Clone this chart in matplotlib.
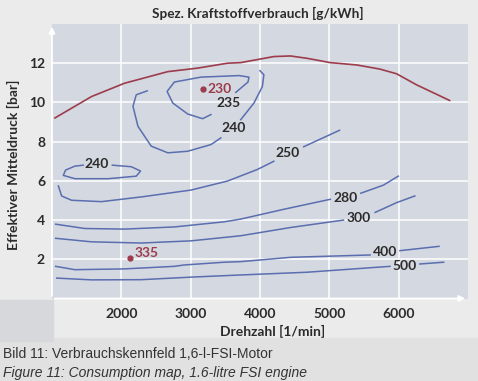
import matplotlib.pyplot as plt

# texts
title = 'Spez. Kraftstoffverbrauch [g/kWh]'
xlabel = 'Drehzahl [1/min]'
ylabel = 'Effektiver Mitteldruck [bar]'
caption_de = 'Bild 11: Verbrauchskennfeld 1,6-l-FSI-Motor'
caption_en = 'Figure 11: Consumption map, 1.6-litre FSI engine'

x_ticks = [2000, 3000, 4000, 5000, 6000]
y_ticks = [2, 4, 6, 8, 10, 12]

# full load line
full_rpm = [1043, 1570, 2047, 2670, 3100, 3531, 3722, 4200, 4439, 4679, 5014, 5397, 5730, 5971, 6257, 6735]
full_bar = [9.21, 10.30, 10.98, 11.57, 11.75, 12.00, 12.03, 12.34, 12.37, 12.25, 12.03, 11.91, 11.70, 11.46, 10.90, 10.10]

# 235 g/kWh
c235_rpm = [3292, 3172, 2957, 2742, 2660, 2765, 3148, 3698, 3841, 3827, 3650]
c235_bar = [9.38, 9.17, 9.41, 9.97, 10.56, 11.04, 11.29, 11.37, 11.29, 11.04, 10.51]

# 240 g/kWh, upper island (two pieces around the label)
c240a_rpm = [2373, 2215, 2168, 2240, 2431, 2670, 2957, 3292, 3435]
c240a_bar = [10.59, 10.39, 9.80, 8.78, 7.77, 7.43, 7.51, 7.85, 8.19]
c240b_rpm = [3722, 3913, 4034, 4056, 3999]
c240b_bar = [9.12, 9.97, 10.81, 11.41, 11.62]

# 240 g/kWh, small island at low speed
c240c_rpm = [1871, 2144, 2277, 2215, 1809, 1330, 1163, 1196, 1330, 1450]
c240c_bar = [6.80, 6.72, 6.50, 6.24, 6.11, 6.11, 6.28, 6.55, 6.75, 6.80]

# 250
c250a_rpm = [1092, 1139, 1283, 1713, 2287, 3005, 3531, 3962, 4200]
c250a_bar = [5.74, 5.23, 5.01, 4.94, 5.18, 5.53, 5.99, 6.58, 7.00]
c250b_rpm = [4630, 5147]
c250b_bar = [7.74, 8.58]

# 280
c280a_rpm = [1053, 1473, 2047, 2765, 3482, 3722, 4343, 5014]
c280a_bar = [3.79, 3.57, 3.54, 3.65, 3.91, 4.05, 4.55, 5.06]
c280b_rpm = [5454, 5779, 5994]
c280b_bar = [5.37, 5.78, 6.24]

# 300
c300a_rpm = [1053, 1570, 2287, 3005, 3722, 4439, 5205]
c300a_bar = [3.07, 2.89, 2.83, 2.94, 3.20, 3.62, 4.00]
c300b_rpm = [5660, 5971, 6233]
c300b_bar = [4.39, 4.89, 5.23]

# 400
c400a_rpm = [1053, 1330, 2047, 2765, 2908, 3482, 3722, 4439, 5588]
c400a_bar = [1.64, 1.47, 1.51, 1.64, 1.71, 1.85, 1.88, 2.10, 2.22]
c400b_rpm = [6018, 6582]
c400b_bar = [2.44, 2.66]

# 500
c500a_rpm = [1068, 1570, 2287, 3005, 3722, 4679, 5875]
c500a_bar = [1.04, 0.95, 0.96, 1.09, 1.20, 1.34, 1.64]
c500b_rpm = [6305, 6649]
c500b_bar = [1.76, 1.85]

# level labels
lab_text = ['235', '240', '240', '250', '280', '300', '400', '500']
lab_rpm = [3550, 3622, 1641, 4404, 5229, 5430, 5803, 6083]
lab_bar = [9.98, 8.71, 6.88, 7.43, 5.15, 4.13, 2.36, 1.68]

# best points
best_rpm = [3181, 2129]
best_bar = [10.70, 2.05]
best_text = ['230', '335']

blue = '#5a6eb0'
red = '#9c3c4c'
dark = '#2b2b2b'

plt.rcParams['font.family'] = 'Lato'

fig = plt.figure(figsize=(4.78, 3.81), dpi=100)
fig.patch.set_facecolor('#ebebeb')

# grey boxes behind the chart
fig.patches.append(plt.Rectangle((0, 0), 1, 1 - 338 / 381, transform=fig.transFigure,
                                 color='#e1e1e1', zorder=0))
fig.patches.append(plt.Rectangle((0, 1 - 341 / 381), 53 / 478, 41 / 381, transform=fig.transFigure,
                                 color='#d6d8dc', zorder=0))

ax = fig.add_axes([52 / 478, 1 - 298.5 / 381, 416 / 478, 274.5 / 381])
ax.set_facecolor('#d4d8e0')
ax.set_xlim(1000, 7000)
ax.set_ylim(0, 14)

for x in x_ticks:
    ax.axvline(x, color='white', lw=1.1, zorder=1)
for y in y_ticks:
    ax.axhline(y, color='white', lw=1.1, zorder=1)

for s in ax.spines.values():
    s.set_visible(False)

# white axis lines with arrow heads
ax.annotate('', xy=(7000, 0), xytext=(1000, 0),
            arrowprops=dict(arrowstyle='-|>', color='white', lw=1.3, mutation_scale=9),
            annotation_clip=False, zorder=2)
ax.annotate('', xy=(1000, 14), xytext=(1000, 0),
            arrowprops=dict(arrowstyle='-|>', color='white', lw=1.3, mutation_scale=9),
            annotation_clip=False, zorder=2)

ax.plot(full_rpm, full_bar, color=red, lw=1.2, zorder=3)
for r, b in [(c235_rpm, c235_bar), (c240a_rpm, c240a_bar), (c240b_rpm, c240b_bar),
             (c240c_rpm, c240c_bar), (c250a_rpm, c250a_bar), (c250b_rpm, c250b_bar),
             (c280a_rpm, c280a_bar), (c280b_rpm, c280b_bar), (c300a_rpm, c300a_bar),
             (c300b_rpm, c300b_bar), (c400a_rpm, c400a_bar), (c400b_rpm, c400b_bar),
             (c500a_rpm, c500a_bar), (c500b_rpm, c500b_bar)]:
    ax.plot(r, b, color=blue, lw=1.1, zorder=3)

for t, r, b in zip(lab_text, lab_rpm, lab_bar):
    ax.text(r, b, t, ha='center', va='center', fontsize=10, weight='bold', color=dark, zorder=4)

ax.plot(best_rpm, best_bar, 'o', color=red, ms=3.5, zorder=4)
ax.text(best_rpm[0] + 60, best_bar[0], best_text[0], ha='left', va='center',
        fontsize=10, weight='bold', color=red)
ax.text(best_rpm[1] + 60, best_bar[1] + 0.25, best_text[1], ha='left', va='center',
        fontsize=10, weight='bold', color=red)

ax.set_xticks(x_ticks)
ax.set_yticks(y_ticks)
ax.tick_params(length=0, labelsize=10, labelcolor=dark)
ax.tick_params(axis='x', pad=7)
ax.tick_params(axis='y', pad=5)
for lab in ax.get_xticklabels() + ax.get_yticklabels():
    lab.set_fontweight('bold')

ax.set_xlabel(xlabel, fontsize=10, weight='bold', color=dark, va='center')
ax.xaxis.set_label_coords(0.53, -0.121)
ax.set_ylabel(ylabel, fontsize=10, weight='bold', color=dark, va='center')
ax.yaxis.set_label_coords(-0.092, 0.487)

fig.text(258 / 478, 1 - 13 / 381, title, ha='center', va='center',
         fontsize=9.8, weight='bold', color=dark)
fig.text(3 / 478, 1 - 354.5 / 381, caption_de, ha='left', va='center',
         fontsize=10, family='Liberation Sans', color='#333333')
fig.text(3 / 478, 1 - 373 / 381, caption_en, ha='left', va='center',
         fontsize=10, family='Liberation Sans', style='italic', color='#333333')

fig.savefig('out.png', dpi=100)
